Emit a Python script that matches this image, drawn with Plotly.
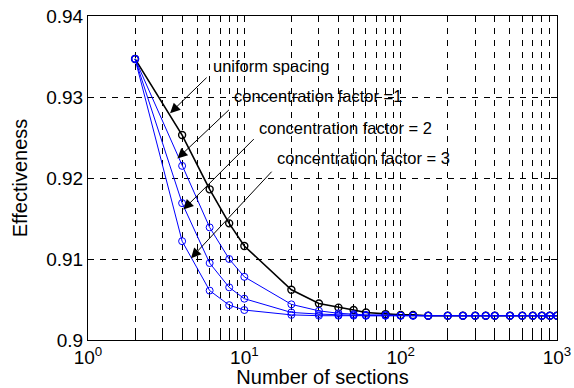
import math
import plotly.graph_objects as go

# ---- data ----
sections = [2, 4, 6, 8, 10, 20, 30, 40, 50, 60, 80, 100, 120, 150, 200, 250,
            300, 350, 400, 500, 600, 700, 800, 900, 1000]

uniform = [0.9347, 0.9253, 0.9186, 0.9144, 0.9116, 0.9062, 0.9045, 0.9040,
           0.9037, 0.9034, 0.9032, 0.9031, 0.9031, 0.9030, 0.9030, 0.9030,
           0.9030, 0.9030, 0.9030, 0.9030, 0.9030, 0.9030, 0.9030, 0.9030, 0.9030]
conc1 = [0.9347, 0.9215, 0.9139, 0.9100, 0.9078, 0.9044, 0.9036, 0.9033,
         0.9032, 0.9031, 0.9031, 0.9030, 0.9030, 0.9030, 0.9030, 0.9030,
         0.9030, 0.9030, 0.9030, 0.9030, 0.9030, 0.9030, 0.9030, 0.9030, 0.9030]
conc2 = [0.9347, 0.9169, 0.9095, 0.9065, 0.9051, 0.9034, 0.9032, 0.9031,
         0.9031, 0.9030, 0.9030, 0.9030, 0.9030, 0.9030, 0.9030, 0.9030,
         0.9030, 0.9030, 0.9030, 0.9030, 0.9030, 0.9030, 0.9030, 0.9030, 0.9030]
conc3 = [0.9347, 0.9122, 0.9061, 0.9043, 0.9037, 0.9031, 0.9030, 0.9030,
         0.9030, 0.9030, 0.9030, 0.9030, 0.9030, 0.9030, 0.9030, 0.9030,
         0.9030, 0.9030, 0.9030, 0.9030, 0.9030, 0.9030, 0.9030, 0.9030, 0.9030]

y_ticks = [0.90, 0.91, 0.92, 0.93, 0.94]
y_ticktext = ["0.9", "0.91", "0.92", "0.93", "0.94"]
x_ticks = [1, 10, 100, 1000]
x_ticktext = ["10<sup>0</sup>", "10<sup>1</sup>", "10<sup>2</sup>", "10<sup>3</sup>"]
x_minor = [m * d for d in (1, 10, 100) for m in range(2, 10)]

labels = ["uniform spacing", "concentration factor =1",
          "concentration factor = 2", "concentration factor = 3"]
# arrow heads (data coords) and text anchors (data coords)
arrow_x = [3.35, 3.73, 4.07, 4.56]
arrow_y = [0.9280, 0.9224, 0.9161, 0.9101]
arrow_ax = [38, 53, 72, 82]
arrow_ay = [-37, -50, -72, -88]
text_x = [6.12, 8.34, 12.06, 15.72]
text_y = [0.9338, 0.9301, 0.9262, 0.9225]

FONT = "Liberation Sans, Arial, Helvetica, sans-serif"

fig = go.Figure()
fig.add_trace(go.Scatter(
    x=sections, y=uniform, mode="lines+markers",
    line=dict(color="black", width=1.6),
    marker=dict(symbol="circle-open", size=7, color="black",
                line=dict(width=1.4, color="black")),
    showlegend=False))
for ys in (conc1, conc2, conc3):
    fig.add_trace(go.Scatter(
        x=sections, y=ys, mode="lines+markers",
        line=dict(color="#0000ff", width=1),
        marker=dict(symbol="circle-open", size=7, color="#0000ff",
                    line=dict(width=1, color="#0000ff")),
        showlegend=False))

annotations = []
for i in range(4):
    annotations.append(dict(
        x=math.log10(arrow_x[i]), y=arrow_y[i],
        xref="x", yref="y", ax=arrow_ax[i], ay=arrow_ay[i],
        showarrow=True, arrowhead=2, arrowsize=2, arrowwidth=1,
        arrowcolor="black", text=""))
    annotations.append(dict(
        x=math.log10(text_x[i]), y=text_y[i],
        xref="x", yref="y", text=labels[i], showarrow=False,
        xanchor="left", yanchor="middle",
        font=dict(family=FONT, size=16.5, color="black")))

grid_dash = "6px,6px"
fig.update_layout(
    width=574, height=388,
    margin=dict(l=88, r=17, t=16, b=48),
    paper_bgcolor="white", plot_bgcolor="white",
    font=dict(family=FONT, color="black"),
    annotations=annotations,
    xaxis=dict(
        type="log", range=[0, 3], automargin=False,
        tickmode="array", tickvals=x_ticks, ticktext=x_ticktext,
        ticks="inside", ticklen=6, tickcolor="black",
        showline=True, linecolor="black", linewidth=1, mirror="ticks",
        showgrid=True, gridcolor="black", gridwidth=0.7, griddash=grid_dash,
        minor=dict(tickvals=x_minor, ticks="inside", ticklen=6,
                   tickcolor="black", showgrid=True, gridcolor="black",
                   gridwidth=0.7, griddash=grid_dash),
        tickfont=dict(size=19, family=FONT),
        title=dict(text="Number of sections", font=dict(size=20, family=FONT),
                   standoff=0),
        zeroline=False,
    ),
    yaxis=dict(
        range=[0.90, 0.94], automargin=False,
        tickmode="array", tickvals=y_ticks, ticktext=y_ticktext,
        ticks="inside", ticklen=6, tickcolor="black",
        showline=True, linecolor="black", linewidth=1, mirror="ticks",
        showgrid=True, gridcolor="black", gridwidth=0.7, griddash=grid_dash,
        tickfont=dict(size=19, family=FONT),
        title=dict(text="Effectiveness", font=dict(size=20, family=FONT),
                   standoff=13),
        zeroline=False,
    ),
)

fig.write_html("out.html",
               config={"displayModeBar": False},
               post_script="document.body.style.margin='0';"
                           "document.body.style.overflow='hidden';")
